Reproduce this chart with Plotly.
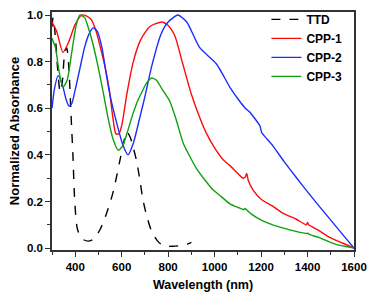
import plotly.graph_objects as go

# ---- data ----
ttd_wl = [300, 305, 315, 325, 335, 345, 355, 363, 372, 382, 390, 398, 410, 430, 455, 480, 507, 535, 563, 593, 610, 621, 635, 650, 665, 680, 693, 710, 730, 755, 777, 800, 820, 845, 863, 885, 900]
ttd_val = [0.95, 0.99, 0.90, 0.76, 0.67, 0.72, 0.84, 0.86, 0.78, 0.57, 0.40, 0.20, 0.08, 0.04, 0.03, 0.04, 0.08, 0.15, 0.24, 0.38, 0.46, 0.50, 0.48, 0.43, 0.37, 0.28, 0.20, 0.13, 0.07, 0.03, 0.012, 0.008, 0.008, 0.01, 0.012, 0.018, 0.025]

cpp1_wl = [300, 320, 347, 370, 400, 428, 450, 469, 490, 511, 530, 548, 562, 575, 588, 601, 622, 650, 680, 720, 773, 800, 829, 863, 900, 940, 966, 1000, 1036, 1066, 1100, 1123, 1132, 1138, 1145, 1165, 1200, 1250, 1293, 1350, 1395, 1400, 1405, 1450, 1495, 1550, 1600]
cpp1_val = [0.97, 0.93, 0.84, 0.88, 0.96, 1.0, 0.995, 0.98, 0.93, 0.85, 0.77, 0.67, 0.56, 0.49, 0.49, 0.53, 0.66, 0.80, 0.89, 0.95, 0.97, 0.955, 0.91, 0.79, 0.66, 0.55, 0.49, 0.43, 0.38, 0.354, 0.32, 0.30, 0.305, 0.32, 0.29, 0.25, 0.21, 0.18, 0.15, 0.125, 0.10, 0.11, 0.10, 0.075, 0.046, 0.022, 0.0]

cpp2_wl = [300, 310, 326, 345, 360, 373, 385, 400, 420, 440, 460, 477, 495, 515, 533, 549, 575, 606, 627, 650, 678, 700, 729, 770, 800, 842, 880, 936, 1008, 1066, 1108, 1128, 1132, 1150, 1195, 1199, 1203, 1250, 1300, 1350, 1401, 1450, 1500, 1550, 1600]
cpp2_val = [0.60, 0.68, 0.74, 0.70, 0.64, 0.61, 0.62, 0.68, 0.77, 0.86, 0.92, 0.945, 0.93, 0.86, 0.75, 0.66, 0.55, 0.44, 0.40, 0.45, 0.56, 0.65, 0.78, 0.92, 0.97, 1.0, 0.97, 0.86, 0.79, 0.69, 0.63, 0.605, 0.60, 0.585, 0.525, 0.51, 0.495, 0.44, 0.37, 0.305, 0.24, 0.18, 0.12, 0.06, 0.0]

cpp3_wl = [300, 315, 330, 347, 365, 385, 405, 420, 440, 455, 475, 498, 520, 541, 562, 585, 605, 625, 648, 668, 687, 708, 729, 750, 775, 807, 835, 865, 895, 923, 960, 993, 1030, 1066, 1100, 1125, 1130, 1137, 1160, 1207, 1250, 1300, 1350, 1395, 1400, 1410, 1450, 1525, 1560, 1600]
cpp3_val = [0.90, 0.86, 0.76, 0.69, 0.72, 0.84, 0.96, 1.0, 0.99, 0.95, 0.88, 0.78, 0.67, 0.56, 0.47, 0.42, 0.44, 0.50, 0.575, 0.63, 0.67, 0.71, 0.73, 0.72, 0.68, 0.63, 0.55, 0.45, 0.39, 0.34, 0.29, 0.25, 0.22, 0.19, 0.175, 0.165, 0.17, 0.165, 0.145, 0.117, 0.10, 0.085, 0.072, 0.063, 0.064, 0.058, 0.045, 0.015, 0.008, 0.0]

series_names = ["TTD", "CPP-1", "CPP-2", "CPP-3"]
x_ticks = [400, 600, 800, 1000, 1200, 1400, 1600]
y_ticks = [0.0, 0.2, 0.4, 0.6, 0.8, 1.0]

FONT = "Liberation Sans, Arial, sans-serif"

fig = go.Figure()
fig.add_trace(go.Scatter(x=ttd_wl, y=ttd_val, name=series_names[0], mode="lines",
                         line=dict(color="black", width=1.4, dash="dash", shape="spline", smoothing=0.8)))
fig.add_trace(go.Scatter(x=cpp1_wl, y=cpp1_val, name=series_names[1], mode="lines",
                         line=dict(color="#ff0a0a", width=1.4, shape="spline", smoothing=0.6)))
fig.add_trace(go.Scatter(x=cpp2_wl, y=cpp2_val, name=series_names[2], mode="lines",
                         line=dict(color="#1b2cff", width=1.4, shape="spline", smoothing=0.6)))
fig.add_trace(go.Scatter(x=cpp3_wl, y=cpp3_val, name=series_names[3], mode="lines",
                         line=dict(color="#0fa00f", width=1.4, shape="spline", smoothing=0.6)))

axis_common = dict(showgrid=False, zeroline=False, showline=True, linecolor="#333333", linewidth=1.6,
                   mirror=True, ticks="outside", ticklen=5, tickwidth=1.3, tickcolor="#333333",
                   tickfont=dict(family=FONT, size=11.5, color="black", weight="bold"))

fig.update_xaxes(range=[300, 1600], tickvals=x_ticks, ticktext=[str(v) for v in x_ticks],
                 minor=dict(dtick=100, tick0=300, ticks="outside", ticklen=3, tickcolor="#333333"),
                 title=dict(text="<b>Wavelength (nm)</b>", font=dict(family=FONT, size=12.5, color="black"), standoff=9),
                 **axis_common)
fig.update_yaxes(range=[-0.008, 1.013], tickvals=y_ticks, ticktext=[f"{v:.1f}" for v in y_ticks],
                 minor=dict(dtick=0.1, tick0=0, ticks="outside", ticklen=3, tickcolor="#333333"),
                 title=dict(text="<b>Normalized Absorbance</b>", font=dict(family=FONT, size=13, color="black"), standoff=4),
                 **axis_common)

fig.update_layout(
    width=374, height=296,
    margin=dict(l=52, r=20, t=5, b=46),
    plot_bgcolor="white", paper_bgcolor="white",
    showlegend=True,
    legend=dict(x=0.71, y=1.03, xanchor="left", yanchor="top", bgcolor="rgba(0,0,0,0)",
                font=dict(family=FONT, size=12, color="black", weight="bold"),
                itemwidth=30, tracegroupgap=0),
)

fig.write_html("out.html", config={"displayModeBar": False},
               post_script="document.body.style.margin='0';")
